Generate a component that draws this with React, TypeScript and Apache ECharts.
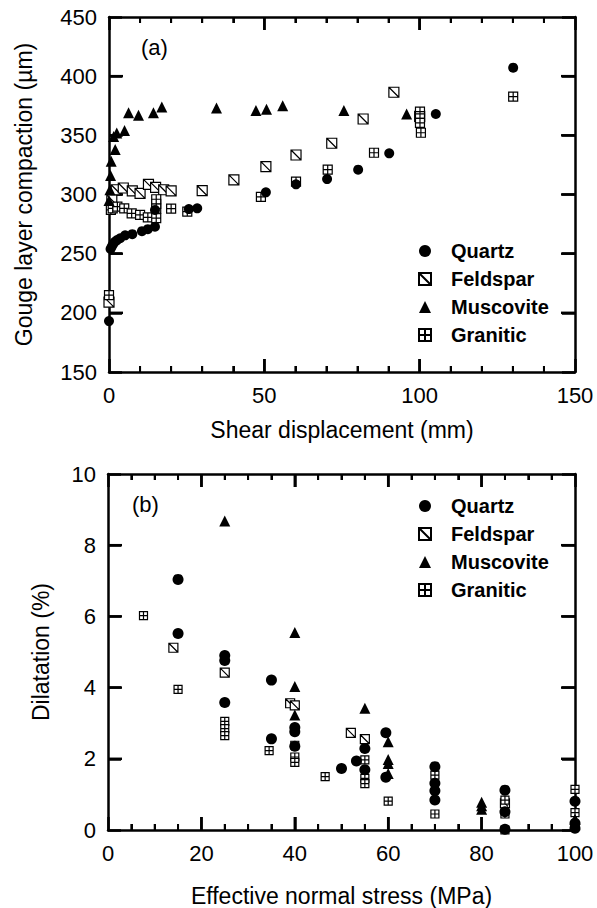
import React, { useEffect, useRef } from "react";
import * as echarts from "echarts";

// ---- Data: panel (a) shear displacement (mm) vs gouge layer compaction (µm)
const quartzA: [number, number][] = [
  [0, 193], [0.5, 254], [0.9, 256], [1.3, 258], [1.9, 260], [2.6, 261.5], [3.6, 263], [5.2, 265.5],
  [7.5, 266.5], [10.6, 269], [12.5, 270.7], [14.8, 272.8], [14.8, 287], [25.7, 287.7], [28.4, 288.3],
  [50.5, 301.8], [60.2, 308.6], [70.2, 313], [80.2, 321], [90.2, 334.8], [105.2, 368], [130.1, 407.2],
];
const feldsparA: [number, number][] = [
  [0, 209], [0.9, 295.5], [2.3, 304], [4.6, 305.5], [7.5, 303], [10, 301], [12.7, 308.5], [15, 306],
  [17.6, 304], [20, 303], [30, 303.2], [40.2, 312.3], [50.5, 323.5], [60.2, 333.4], [71.7, 343.3],
  [81.8, 363.8], [91.7, 386.4], [100, 366],
];
const muscoviteA: [number, number][] = [
  [0, 295], [0.3, 304], [0.5, 316], [0.7, 328], [2, 338], [1.5, 349], [2.5, 352], [5, 354],
  [6.3, 369], [9.5, 367], [14.3, 369], [17, 374], [34.6, 373], [47.3, 371], [50.7, 372],
  [55.9, 375], [75.6, 371], [95.8, 368],
];
const graniticA: [number, number][] = [
  [0, 215], [0.6, 287], [1.2, 288.3], [2.7, 289.7], [4.9, 288.3], [7.3, 284.1], [10, 282.7],
  [12.5, 280.7], [15.2, 280], [15.2, 288], [15.2, 292], [15.2, 296], [20, 288], [25.2, 285.5],
  [48.9, 298], [60.2, 310.8], [70.4, 321], [85.3, 335.3], [100.1, 370], [100.1, 364.4],
  [100.1, 360.5], [100.4, 352.2], [130.1, 382.7],
];

// ---- Data: panel (b) effective normal stress (MPa) vs dilatation (%)
const quartzB: [number, number][] = [
  [15, 7.04], [15, 5.52], [25, 4.9], [25, 4.76], [25, 3.58], [35, 4.21], [35, 2.56], [40, 2.88],
  [40, 2.76], [40, 2.35], [50, 1.73], [53.2, 1.94], [55, 2.29], [55, 1.69], [59.5, 2.73],
  [59.5, 1.48], [70, 1.78], [70, 1.31], [70, 1.1], [70, 0.84], [85, 1.12], [85, 0.51], [85, 0.02],
  [100, 0.81], [100, 0.19], [100, 0.05],
];
const feldsparB: [number, number][] = [
  [14, 5.12], [25, 4.42], [39, 3.56], [40, 3.5], [52, 2.73], [55, 2.55], [85, 0.75],
];
const muscoviteB: [number, number][] = [
  [25, 8.68], [40, 5.55], [40, 4.03], [40, 3.23], [55, 3.42], [60, 2.48], [60, 1.98], [60, 1.87],
  [60, 1.59], [80, 0.78], [80, 0.68], [80, 0.58], [100, 0.3], [100, 0.15],
];
const graniticB: [number, number][] = [
  [7.6, 6.02], [15, 3.95], [25, 3.05], [25, 2.85], [25, 2.65], [34.5, 2.23], [40, 2.38], [40, 2.05],
  [40, 1.9], [46.5, 1.5], [55, 1.97], [55, 1.45], [55, 1.3], [60, 0.81], [70, 1.54], [70, 0.45],
  [85, 0.84], [85, 0.45], [85, 0], [100, 1.14], [100, 0.49],
];

// ---- Tick values (frame ticks on all four sides)
const xMajorA = [50, 100];
const xMinorA = [10, 20, 30, 40, 60, 70, 80, 90, 110, 120, 130, 140];
const yMajorA = [200, 250, 300, 350, 400];
const xMajorB = [20, 40, 60, 80];
const xMinorB = [5, 10, 15, 25, 30, 35, 45, 50, 55, 65, 70, 75, 85, 90, 95];
const yMajorB = [2, 4, 6, 8];

const seriesNames = ["Quartz", "Feldspar", "Muscovite", "Granitic"];
const xTitleA = "Shear displacement (mm)";
const yTitleA = "Gouge layer compaction (\u00b5m)";
const xTitleB = "Effective normal stress (MPa)";
const yTitleB = "Dilatation (%)";

const FONT = "Liberation Sans, Arial, Helvetica, sans-serif";
const FELDSPAR_SYMBOL = "path://M0,0L10,0L10,10L0,10ZM0,0L10,10";
const GRANITIC_SYMBOL = "path://M0,0L10,0L10,10L0,10ZM5,0L5,10M0,5L10,5";

function axisCommon(extra: any, secondary: boolean) {
  return {
    type: "value",
    splitLine: { show: false },
    axisLine: secondary
      ? { show: true, onZeroAxisIndex: 99, lineStyle: { color: "#000", width: 2.5 } }
      : { show: true, lineStyle: { color: "#000", width: 2.5 } },
    axisTick: { show: true, inside: true, length: 13, lineStyle: { color: "#000", width: 2.5 } },
    axisLabel: secondary
      ? { show: false }
      : { color: "#000", fontSize: 22, fontFamily: FONT, margin: 12 },
    nameTextStyle: { color: "#000", fontSize: 23, fontFamily: FONT },
    nameLocation: "middle",
    ...extra,
  };
}

export default function App() {
  const ref = useRef<HTMLDivElement>(null);
  useEffect(() => {
    document.body.style.margin = "0";
    if (!ref.current) return;
    const chart = echarts.init(ref.current, undefined, { renderer: "svg" });

    const mkSeries = (name: string, data: [number, number][], grid: number) => {
      const base: any = {
        name,
        type: "scatter",
        data,
        xAxisIndex: grid * 2,
        yAxisIndex: grid * 2,
      };
      if (name === "Quartz") {
        base.symbol = "circle";
        base.symbolSize = grid === 0 ? 10 : 11;
        base.itemStyle = { color: "#000", opacity: 1 };
      } else if (name === "Muscovite") {
        base.symbol = "triangle";
        base.symbolSize = 11;
        base.itemStyle = { color: "#000", opacity: 1 };
      } else if (name === "Feldspar") {
        base.symbol = FELDSPAR_SYMBOL;
        base.symbolSize = grid === 0 ? 10 : 9;
        base.itemStyle = { color: "#fff", borderColor: "#000", borderWidth: 1.2, opacity: 1 };
      } else {
        base.symbol = GRANITIC_SYMBOL;
        base.symbolSize = grid === 0 ? 9 : 8;
        base.itemStyle = { color: "#fff", borderColor: "#000", borderWidth: 1.2, opacity: 1 };
      }
      return base;
    };

    // frame ticks drawn through the cartesian coordinate system (inward, on both sides)
    const tickSeries = (
      grid: number, dim: "x" | "y", values: number[], len: number, width: number,
      lo: number, hi: number,
    ) => ({
      type: "custom",
      name: "ticks-" + grid + dim + len,
      silent: true,
      clip: false,
      xAxisIndex: grid * 2,
      yAxisIndex: grid * 2,
      data: values.map((v) => (dim === "x" ? [v, lo] : [lo, v])),
      renderItem: (_params: any, api: any) => {
        const v = api.value(dim === "x" ? 0 : 1);
        const style = { stroke: "#000", lineWidth: width, fill: "none" };
        if (dim === "x") {
          const pb = api.coord([v, lo]);
          const pt = api.coord([v, hi]);
          return {
            type: "group",
            children: [
              { type: "line", shape: { x1: pb[0], y1: pb[1], x2: pb[0], y2: pb[1] - len }, style },
              { type: "line", shape: { x1: pt[0], y1: pt[1], x2: pt[0], y2: pt[1] + len }, style },
            ],
          };
        }
        const pl = api.coord([lo, v]);
        const pr = api.coord([hi, v]);
        return {
          type: "group",
          children: [
            { type: "line", shape: { x1: pl[0], y1: pl[1], x2: pl[0] + len, y2: pl[1] }, style },
            { type: "line", shape: { x1: pr[0], y1: pr[1], x2: pr[0] - len, y2: pr[1] }, style },
          ],
        };
      },
    });

    const legendCommon = {
      data: seriesNames,
      orient: "vertical",
      itemWidth: 12,
      itemHeight: 12,
      itemGap: 8,
      selectedMode: false,
      textStyle: { color: "#000", fontSize: 20, fontWeight: "bold", fontFamily: FONT, padding: [0, 0, 0, 15] },
    };

    const minorX = (n: number) => ({ show: true, splitNumber: n, length: 6, lineStyle: { color: "#000", width: 2 } });

    chart.setOption({
      animation: false,
      grid: [
        { left: 109, width: 466, top: 17, height: 355 },
        { left: 108, width: 467, top: 474, height: 356 },
      ],
      xAxis: [
        axisCommon({ gridIndex: 0, position: "bottom", min: 0, max: 150, splitNumber: 3, minorTick: minorX(5), name: xTitleA, nameGap: 46 }, false),
        axisCommon({ gridIndex: 0, position: "top", min: 0, max: 150, splitNumber: 3, minorTick: minorX(5) }, true),
        axisCommon({ gridIndex: 1, position: "bottom", min: 0, max: 100, splitNumber: 5, minorTick: minorX(4), name: xTitleB, nameGap: 54 }, false),
        axisCommon({ gridIndex: 1, position: "top", min: 0, max: 100, splitNumber: 5, minorTick: minorX(4) }, true),
      ],
      yAxis: [
        axisCommon({ gridIndex: 0, position: "left", min: 150, max: 450, splitNumber: 6, name: yTitleA, nameGap: 74 }, false),
        axisCommon({ gridIndex: 0, position: "right", min: 150, max: 450, splitNumber: 6 }, true),
        axisCommon({ gridIndex: 1, position: "left", min: 0, max: 10, splitNumber: 5, name: yTitleB, nameGap: 56 }, false),
        axisCommon({ gridIndex: 1, position: "right", min: 0, max: 10, splitNumber: 5 }, true),
      ],
      legend: [
        { ...legendCommon, left: 413, top: 236 },
        { ...legendCommon, left: 413, top: 491 },
      ],
      graphic: [
        { type: "text", left: 141, top: 36, style: { text: "(a)", fontSize: 22, fontFamily: FONT, fill: "#000" } },
        { type: "text", left: 132, top: 493, style: { text: "(b)", fontSize: 22, fontFamily: FONT, fill: "#000" } },
      ],
      series: [
        tickSeries(0, "x", xMajorA, 13, 2.5, 150, 450),
        tickSeries(0, "x", xMinorA, 6, 2, 150, 450),
        tickSeries(0, "y", yMajorA, 14, 2.5, 0, 150),
        tickSeries(1, "x", xMajorB, 13, 2.5, 0, 10),
        tickSeries(1, "x", xMinorB, 6, 2, 0, 10),
        tickSeries(1, "y", yMajorB, 14, 2.5, 0, 100),
        mkSeries("Feldspar", feldsparA, 0),
        mkSeries("Granitic", graniticA, 0),
        mkSeries("Muscovite", muscoviteA, 0),
        mkSeries("Quartz", quartzA, 0),
        mkSeries("Feldspar", feldsparB, 1),
        mkSeries("Granitic", graniticB, 1),
        mkSeries("Muscovite", muscoviteB, 1),
        mkSeries("Quartz", quartzB, 1),
      ],
    });
    return () => chart.dispose();
  }, []);
  return <div ref={ref} style={{ width: 597, height: 908, background: "#fff" }} />;
}
